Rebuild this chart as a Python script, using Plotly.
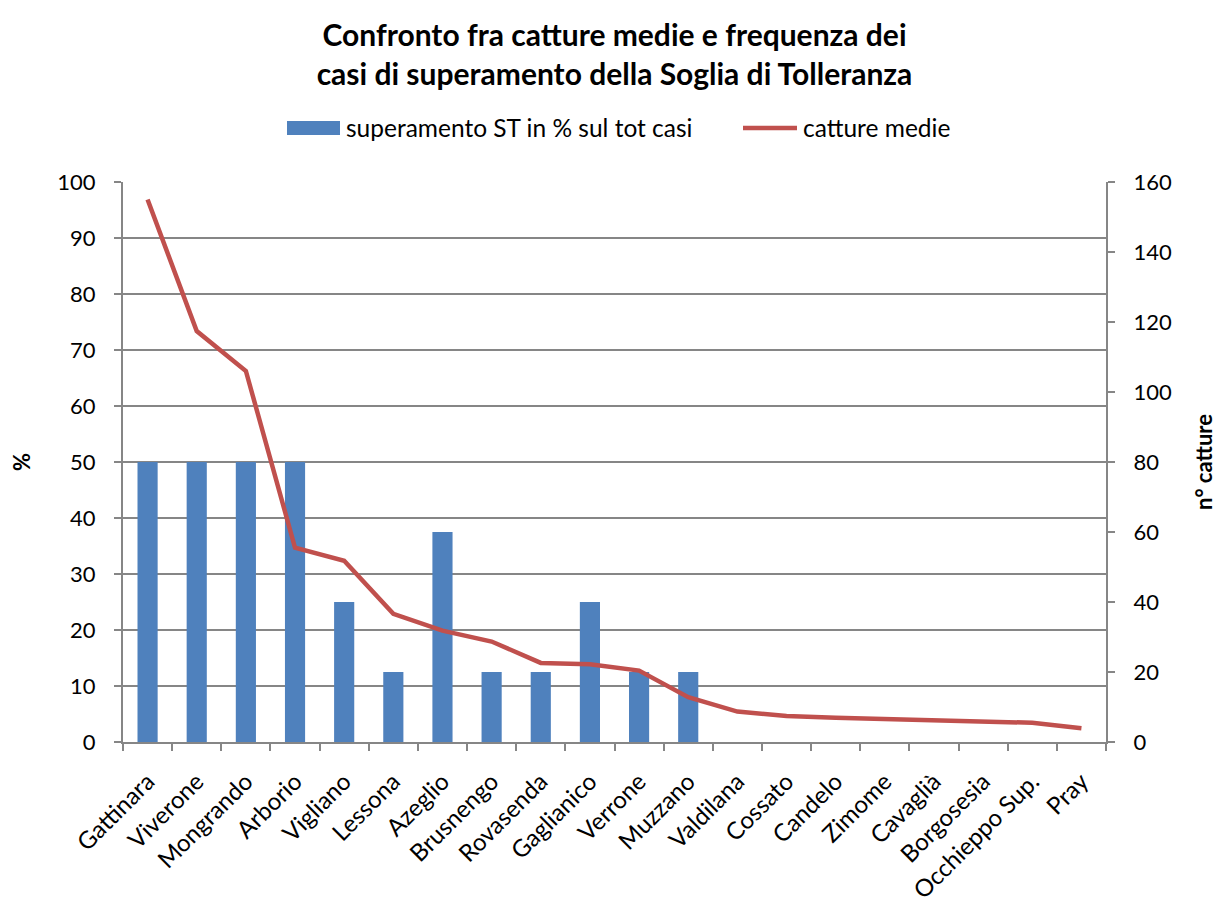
import plotly.graph_objects as go

categories = ["Gattinara", "Viverone", "Mongrando", "Arborio", "Vigliano", "Lessona",
              "Azeglio", "Brusnengo", "Rovasenda", "Gaglianico", "Verrone", "Muzzano",
              "Valdilana", "Cossato", "Candelo", "Zimome", "Cavaglià", "Borgosesia",
              "Occhieppo Sup.", "Pray"]
superamento_pct = [50, 50, 50, 50, 25, 12.5, 37.5, 12.5, 12.5, 25, 12.5, 12.5,
                   0, 0, 0, 0, 0, 0, 0, 0]
catture_medie = [155, 117.4, 106, 55.5, 51.8, 36.6, 31.8, 28.7, 22.6, 22.2, 20.4, 12.8,
                 8.7, 7.4, 6.9, 6.5, 6.3, 5.6, 5.5, 3.9]
series_names = ["superamento ST in % sul tot casi", "catture medie"]

FONT = "Lato, 'Noto Sans', sans-serif"
GRAY = "#868686"
BLUE = "#4F81BD"
RED = "#C0504D"

W, H = 1213, 890          # page has an 8px body margin
L, R, T, B = 115, 115, 174, 156
PW, PH = W - L - R, H - T - B


def px_x(x):  # page pixel -> paper x
    return (x - 8 - L) / PW


def px_y(y):  # page pixel -> paper y
    return 1 - (y - 8 - T) / PH


fig = go.Figure()
fig.add_trace(go.Bar(x=categories, y=superamento_pct, name=series_names[0],
                     marker=dict(color=BLUE, line=dict(width=0)), yaxis="y", showlegend=False))
fig.add_trace(go.Scatter(x=categories, y=catture_medie, name=series_names[1], mode="lines",
                         line=dict(color=RED, width=4.5), yaxis="y2", showlegend=False))

# custom legend (Excel-style wide swatches)
fig.add_shape(type="rect", xref="paper", yref="paper",
              x0=px_x(287), x1=px_x(340), y0=px_y(121), y1=px_y(135),
              fillcolor=BLUE, line=dict(width=0))
fig.add_shape(type="line", xref="paper", yref="paper",
              x0=px_x(743), x1=px_x(797), y0=px_y(128), y1=px_y(128),
              line=dict(color=RED, width=4.5))
fig.add_annotation(text=series_names[0], xref="paper", yref="paper", x=px_x(344), y=px_y(128),
                   xanchor="left", yanchor="middle", showarrow=False, font=dict(size=24.5))
fig.add_annotation(text=series_names[1], xref="paper", yref="paper", x=px_x(801), y=px_y(128),
                   xanchor="left", yanchor="middle", showarrow=False, font=dict(size=24.5))

fig.update_layout(
    width=W, height=H,
    margin=dict(l=L, r=R, t=T, b=B),
    paper_bgcolor="white", plot_bgcolor="white",
    font=dict(family=FONT, size=22, color="black"),
    bargap=0.59,
    showlegend=False,
    title=dict(text="<b>Confronto fra catture medie e frequenza dei<br>casi di superamento della Soglia di Tolleranza</b>",
               x=0.5, xanchor="center", y=1 - 37.5 / H, yanchor="middle",
               font=dict(family=FONT, size=30, color="black")),
    xaxis=dict(type="category", tickangle=-45, showline=True, linecolor=GRAY, linewidth=2,
               ticks="outside", tickson="boundaries", ticklen=7, tickcolor=GRAY, tickwidth=2,
               ticklabelstandoff=14,
               showgrid=False, tickfont=dict(size=24), automargin=False),
    yaxis=dict(range=[0, 100], dtick=10, showline=True, linecolor=GRAY, linewidth=2,
               ticks="outside", ticklen=7, tickcolor=GRAY, tickwidth=2,
               showgrid=True, gridcolor=GRAY, gridwidth=2, zeroline=False,
               ticklabelstandoff=14,
               title=dict(text="<b>%</b>", font=dict(size=22), standoff=34),
               tickfont=dict(size=22), automargin=False),
    yaxis2=dict(range=[0, 160], dtick=20, overlaying="y", side="right", showline=True,
                linecolor=GRAY, linewidth=2, ticks="outside", ticklen=7, tickcolor=GRAY,
                tickwidth=2, showgrid=False, zeroline=False,
                ticklabelstandoff=14,
                title=dict(text="<b>n° catture</b>", font=dict(size=22), standoff=26),
                tickfont=dict(size=22), automargin=False),
)

fig.write_html("out.html")
